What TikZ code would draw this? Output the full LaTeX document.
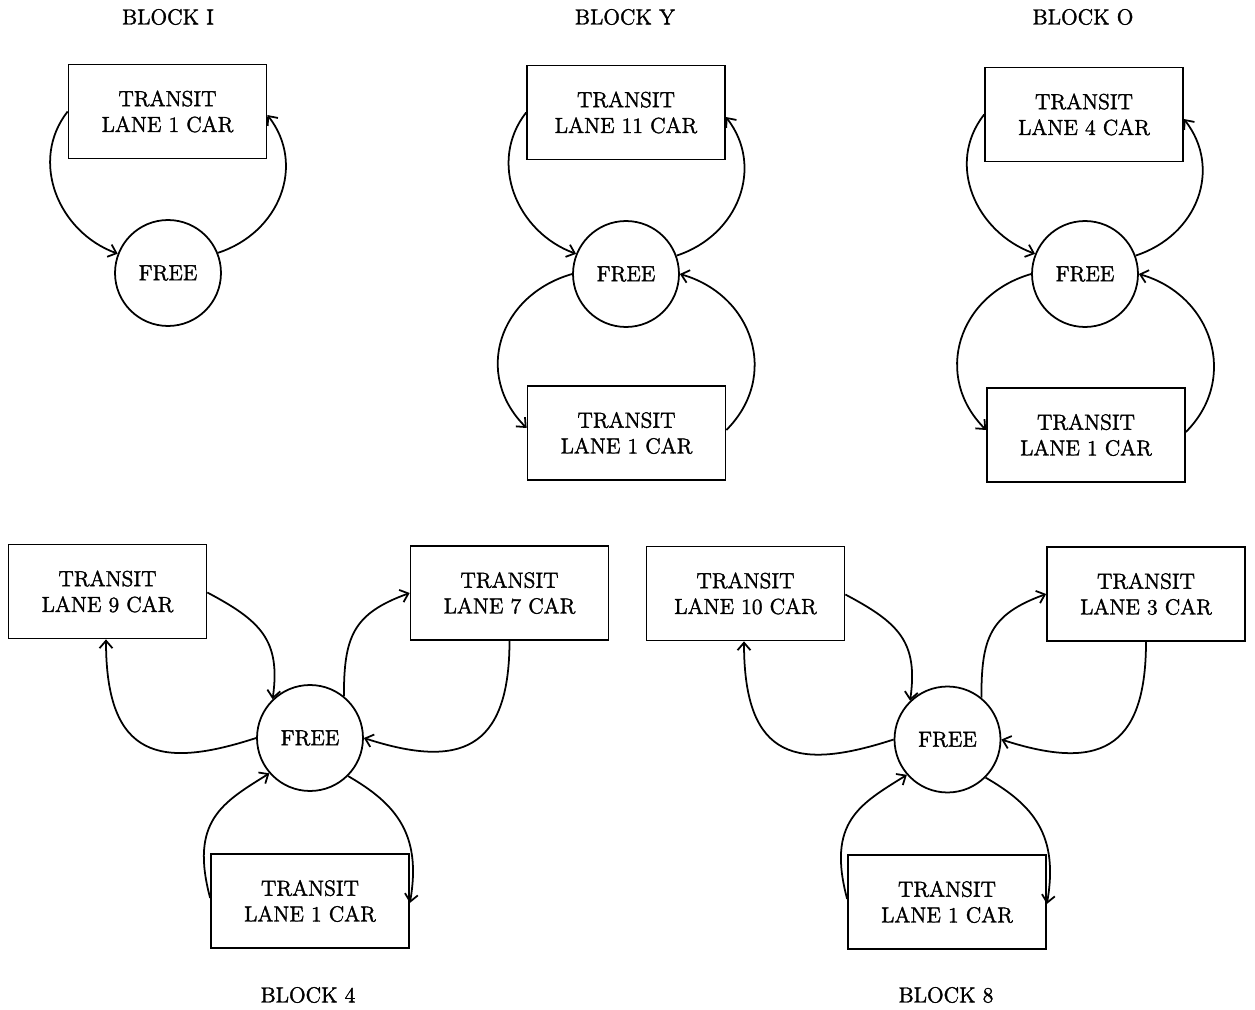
\documentclass[tikz,border=0pt]{standalone}
\usepackage{fontspec}
\setmainfont{Latin Modern Roman}[FakeBold=1.6]
\usetikzlibrary{arrows.meta,calc}
\newcommand{\transit}[1]{TRANSIT\\LANE #1 CAR}
\begin{document}
\begin{tikzpicture}[x=0.02cm,y=0.02cm,
  lbl/.style={font=\fontsize{12.4}{14.7}\selectfont},
  carbox/.style={draw, line width=1pt, rectangle, minimum width=3.96cm,
    minimum height=1.88cm, align=center, inner sep=0pt, lbl},
  freenode/.style={draw, line width=1pt, circle, minimum size=2.12cm,
    inner sep=0pt, lbl},
  blocktitle/.style={lbl, inner sep=0pt},
  link/.style={line width=1pt, -{Straight Barb[length=1.5mm,width=2.6mm]}}]
\path[use as bounding box] (0,0) rectangle (1255,-1010);

% ---------- BLOCK I ----------
\node[blocktitle] (tI) at (168,-17) {BLOCK I};
\node[carbox] (I1) at (167.5,-111.5) {\transit{1}};
\node[freenode] (If) at (168,-273) {FREE};
\draw[link] (I1.west) .. controls +(232:63) and +(160:63) .. (If.159);
\draw[link] (If.22) .. controls +(18:65) and +(-52:63) .. ($(I1.east)+(0,-3.5)$);

% ---------- BLOCK Y ----------
\node[blocktitle] (tY) at (625,-17) {BLOCK Y};
\node[carbox] (Y11) at (626,-112.5) {\transit{11}};
\node[freenode] (Yf) at (626,-274) {FREE};
\node[carbox] (Y1) at (626.5,-433) {\transit{1}};
\draw[link] (Y11.west) .. controls +(232:63) and +(160:63) .. (Yf.158);
\draw[link] (Yf.20) .. controls +(18:65) and +(-52:63) .. ($(Y11.east)+(0,-4.5)$);
\draw[link] (Yf.180) .. controls +(196:76) and +(135:76) .. ($(Y1.west)+(0,5)$);
\draw[link] ($(Y1.east)+(0,3)$) .. controls +(45:76) and +(-16:76) .. (Yf.east);

% ---------- BLOCK O ----------
\node[blocktitle] (tO) at (1083,-17) {BLOCK O};
\node[carbox] (O4) at (1084,-114.5) {\transit{4}};
\node[freenode] (Of) at (1085,-274) {FREE};
\node[carbox] (O1) at (1086,-435) {\transit{1}};
\draw[link] (O4.west) .. controls +(232:63) and +(160:63) .. (Of.158);
\draw[link] (Of.20) .. controls +(18:65) and +(-52:63) .. ($(O4.east)+(0,-4.5)$);
\draw[link] (Of.180) .. controls +(196:76) and +(135:76) .. ($(O1.west)+(0,5)$);
\draw[link] ($(O1.east)+(0,3)$) .. controls +(45:76) and +(-16:76) .. (Of.east);

% ---------- BLOCK 4 ----------
\node[blocktitle] (t4) at (308,-995) {BLOCK 4};
\node[carbox] (F9) at (107.5,-591.5) {\transit{9}};
\node[carbox] (F7) at (509.5,-593) {\transit{7}};
\node[freenode] (Ff) at (310,-738) {FREE};
\node[carbox] (F1) at (310,-901) {\transit{1}};
\draw[link] ($(F9.east)+(0,-1)$) .. controls +(-28:60) and +(82:60) .. (Ff.134);
\draw[link] (Ff.180) .. controls +(198:100) and +(-90:120) .. ($(F9.south)+(-1.5,0)$);
\draw[link] (Ff.51) .. controls +(90:60) and +(200:60) .. (F7.west);
\draw[link] (F7.south) .. controls +(-90:110) and +(-18:100) .. (Ff.east);
\draw[link] ($(F1.west)+(0,3)$) .. controls +(105:80) and +(212:55) .. (Ff.221);
\draw[link] (Ff.-45) .. controls +(-30:55) and +(80:70) .. ($(F1.east)+(0,-2)$);

% ---------- BLOCK 8 ----------
\node[blocktitle] (t8) at (946,-995) {BLOCK 8};
\node[carbox] (E10) at (745.5,-593.5) {\transit{10}};
\node[carbox] (E3) at (1146,-594) {\transit{3}};
\node[freenode] (Ef) at (947.5,-739.5) {FREE};
\node[carbox] (E1) at (947,-902) {\transit{1}};
\draw[link] ($(E10.east)+(0,-1)$) .. controls +(-28:60) and +(82:60) .. (Ef.134);
\draw[link] (Ef.180) .. controls +(198:100) and +(-90:120) .. ($(E10.south)+(-1.5,0)$);
\draw[link] (Ef.51) .. controls +(90:60) and +(200:60) .. (E3.west);
\draw[link] (E3.south) .. controls +(-90:110) and +(-18:100) .. (Ef.east);
\draw[link] ($(E1.west)+(0,3)$) .. controls +(105:80) and +(212:55) .. (Ef.221);
\draw[link] (Ef.-45) .. controls +(-30:55) and +(80:70) .. ($(E1.east)+(0,-2)$);
\end{tikzpicture}
\end{document}
